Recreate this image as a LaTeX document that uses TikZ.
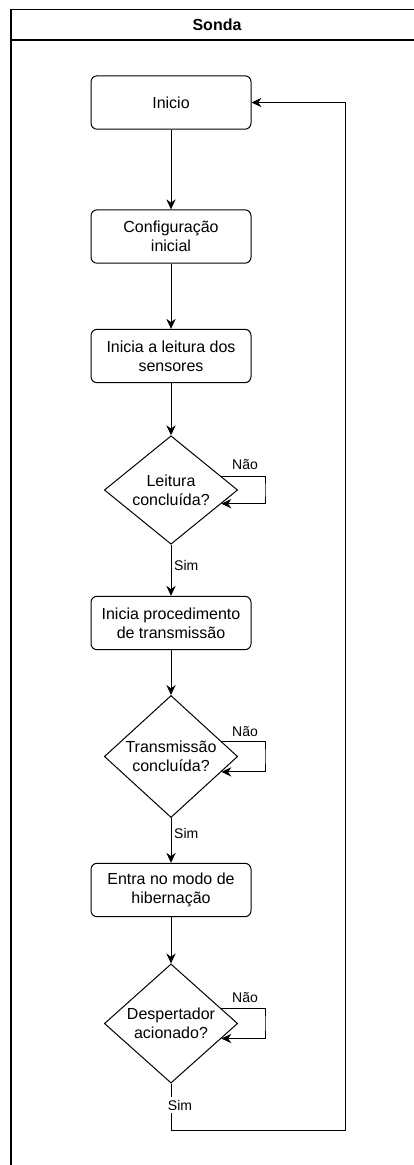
\documentclass[tikz,border=0pt]{standalone}
\usepackage{fontspec}
\setmainfont{Liberation Sans}
\usetikzlibrary{shapes.geometric,arrows.meta,calc}
\begin{document}
\begin{tikzpicture}[x=0.75pt,y=-0.75pt,
  line width=0.75pt,
  stepbox/.style={draw,rounded corners=4.5pt,minimum width=120pt,minimum height=40pt,
    align=center,font=\fontsize{12}{14.5}\selectfont,inner sep=0pt},
  decision/.style={draw,diamond,minimum width=100pt,minimum height=80pt,inner sep=0pt,
    align=center,font=\fontsize{12}{14.5}\selectfont},
  arr/.style={-{Stealth[length=7.5pt,width=7pt,inset=2.5pt]}},
  lbl/.style={font=\fontsize{10.5}{12.6}\selectfont,inner sep=2pt}]
\useasboundingbox (0,0) rectangle (414,1165);
\begin{scope}
\clip (0,0) rectangle (414,1165);
\draw[line width=1pt] (11,9.5) rectangle (423,1180);
\draw[line width=1pt] (11,40) -- (423,40);
\end{scope}
\node[font=\bfseries\fontsize{12}{14.5}\selectfont] (title) at (217,25) {Sonda};

\node[stepbox] (inicio) at (171,102.5) {Inicio};
\node[stepbox] (config) at (171,236.5) {Configuração\\inicial};
\node[stepbox] (leitura) at (171,356) {Inicia a leitura dos\\sensores};
\node[decision] (d1) at (171,490) {Leitura\\concluída?};
\node[stepbox] (transm) at (171,623) {Inicia procedimento\\de transmissão};
\node[decision] (d2) at (171,756.5) {Transmissão\\concluída?};
\node[stepbox] (hiber) at (171,890) {Entra no modo de\\hibernação};
\node[decision] (d3) at (171,1023.5) {Despertador\\acionado?};

\draw[arr] (inicio) -- (config);
\draw[arr] (config) -- (leitura);
\draw[arr] (leitura) -- (d1);
\draw[arr] (d1) -- node[lbl,pos=0.4,right] {Sim} (transm);
\draw[arr] (transm) -- (d2);
\draw[arr] (d2) -- node[lbl,pos=0.35,right] {Sim} (hiber);
\draw[arr] (hiber) -- (d3);

% Nao loops
\coordinate (l1) at (265,490);
\coordinate (l2) at (265,756.5);
\coordinate (l3) at (265,1023.5);
\draw[arr] ($(d1.east)!0.25!(d1.north)$) -| (l1) |- ($(d1.east)!0.25!(d1.south)$);
\draw[arr] ($(d2.east)!0.25!(d2.north)$) -| (l2) |- ($(d2.east)!0.25!(d2.south)$);
\draw[arr] ($(d3.east)!0.25!(d3.north)$) -| (l3) |- ($(d3.east)!0.25!(d3.south)$);
\node[lbl] (n1) at (245,465) {Não};
\node[lbl] (n2) at (245,732) {Não};
\node[lbl] (n3) at (245,998) {Não};

% return
\coordinate (r1) at (345,1130);
\draw[arr] (d3.south) |- (r1) |- (inicio.east);
\node[lbl,fill=white] (s3) at (180,1105) {Sim};
\end{tikzpicture}
\end{document}
